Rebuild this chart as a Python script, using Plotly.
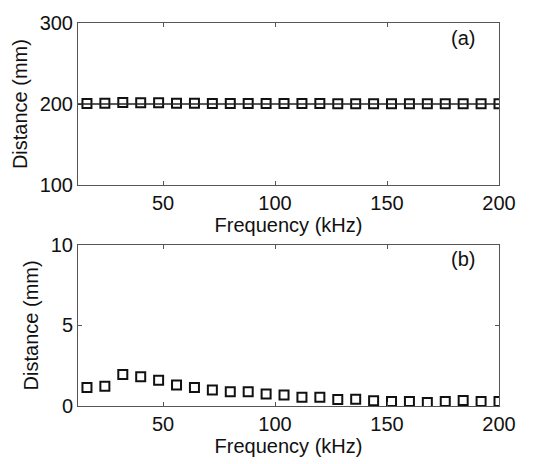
import plotly.graph_objects as go
from plotly.subplots import make_subplots

freq_khz = [16, 24, 32, 40, 48, 56, 64, 72, 80, 88, 96, 104, 112, 120, 128, 136,
            144, 152, 160, 168, 176, 184, 192, 200]
dist_a_mm = [200.8, 200.9, 202.0, 201.8, 201.7, 201.0, 200.9, 200.8, 200.8, 200.8, 200.7, 200.7,
             200.6, 200.6, 200.5, 200.5, 200.4, 200.4, 200.4, 200.3, 200.4, 200.4, 200.4, 200.4]
dist_b_mm = [1.15, 1.23, 1.96, 1.82, 1.6, 1.3, 1.15, 1.0, 0.89, 0.89, 0.75, 0.69,
             0.55, 0.55, 0.4, 0.42, 0.32, 0.28, 0.28, 0.22, 0.28, 0.34, 0.28, 0.28]
ref_a_mm = 200
xticks = [50, 100, 150, 200]
yticks_a = [100, 200, 300]
yticks_b = [0, 5, 10]

fig = make_subplots(rows=2, cols=1, vertical_spacing=0.1)

marker = dict(symbol="square-open", size=9, color="#111", line=dict(width=2, color="#111"))
fig.add_trace(go.Scatter(x=freq_khz, y=dist_a_mm, mode="markers", marker=marker,
                         showlegend=False), row=1, col=1)
fig.add_trace(go.Scatter(x=freq_khz, y=dist_b_mm, mode="markers", marker=marker,
                         showlegend=False), row=2, col=1)
fig.add_hline(y=ref_a_mm, line=dict(color="#222", width=1.5), row=1, col=1)

font = dict(family="Liberation Sans, Arial, sans-serif", size=20, color="#111")
axis_common = dict(showgrid=False, zeroline=False, showline=True, linecolor="#555",
                   linewidth=1, mirror="ticks", ticks="inside", ticklen=4,
                   tickcolor="#555", tickfont=font)

fig.update_xaxes(range=[12, 200], tickvals=xticks,
                 title=dict(text="Frequency (kHz)", font=font, standoff=3),
                 ticklabelstandoff=0, **axis_common)
fig.update_yaxes(title=dict(text="Distance (mm)", font=font, standoff=6), **axis_common)
fig.update_yaxes(range=[100, 300], tickvals=yticks_a, row=1, col=1)
fig.update_yaxes(range=[0, 10], tickvals=yticks_b, row=2, col=1)

fig.update_layout(
    width=536, height=464,
    margin=dict(l=78, r=37, t=16, b=56),
    paper_bgcolor="white", plot_bgcolor="white",
    font=font,
    yaxis=dict(domain=[0.5765, 1.0]),
    yaxis2=dict(domain=[0.0, 0.421]),
)
fig.add_annotation(text="(a)", xref="x domain", yref="y domain", x=0.948, y=0.91,
                   showarrow=False, font=font, xanchor="right", yanchor="middle", row=1, col=1)
fig.add_annotation(text="(b)", xref="x2 domain", yref="y2 domain", x=0.948, y=0.91,
                   showarrow=False, font=font, xanchor="right", yanchor="middle", row=2, col=1)

fig.write_html("out.html")
